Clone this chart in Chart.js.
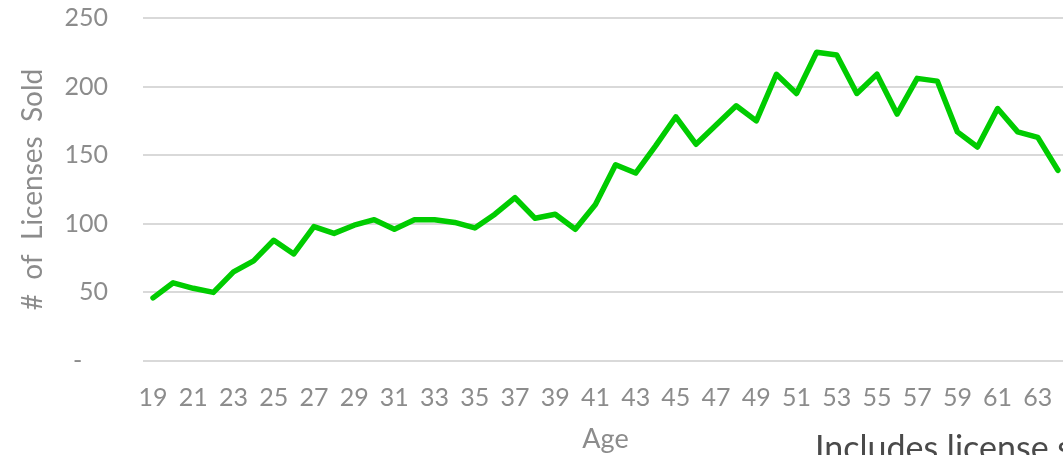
<!DOCTYPE html>
<html>
<head>
<meta charset="utf-8">
<script src="https://cdn.jsdelivr.net/npm/chart.js@4"></script>
<style>
  html, body { margin: 0; padding: 0; background: #fff; overflow: hidden; }
  #wrap { position: relative; width: 1080px; height: 455px; }
  #note { position: absolute; left: 815px; top: 426px; font-family: Lato, sans-serif; font-size: 34px; color: #4a4a4a; white-space: nowrap; }
</style>
</head>
<body>
<div id="wrap">
  <canvas id="ages" width="1080" height="455"></canvas>
  <div id="note">Includes license sales</div>
</div>
<script>
var ages = [19,20,21,22,23,24,25,26,27,28,29,30,31,32,33,34,35,36,37,38,39,40,41,42,43,44,45,46,47,48,49,50,51,52,53,54,55,56,57,58,59,60,61,62,63,64];
var licensesSold = [46,57,53,50,65,73,88,78,98,93,99,103,96,103,103,101,97,107,119,104,107,96,114,143,137,157,178,158,172,186,175,209,195,225,223,195,209,180,206,204,167,156,184,167,163,139];
var yTicks = [0,50,100,150,200,250];

var grey = "#8c8c8c";
var ctx = document.getElementById("ages").getContext("2d");

var ChartAges = new Chart(ctx, {
  type: "line",
  data: {
    labels: ages,
    datasets: [{
      label: "# of Licenses Sold",
      data: licensesSold,
      borderColor: "#00cc00",
      backgroundColor: "#00cc00",
      borderWidth: 5.5,
      borderJoinStyle: "round",
      borderCapStyle: "round",
      pointRadius: 0,
      tension: 0,
      fill: false
    }]
  },
  options: {
    responsive: false,
    animation: false,
    layout: { padding: { left: 0, right: 7, top: 18, bottom: 0 } },
    plugins: { legend: { display: false }, tooltip: { enabled: false } },
    scales: {
      x: {
        offset: true,
        afterFit: function(scale) { scale.height = 94; },
        grid: { display: false, drawTicks: false },
        border: { display: false },
        ticks: {
          autoSkip: false,
          maxRotation: 0,
          padding: 22,
          color: grey,
          font: { family: "Lato", size: 25 },
          callback: function(v, i) { return i % 2 === 0 ? ages[i] : ""; }
        },
        title: {
          display: true,
          text: "Age",
          color: grey,
          font: { family: "Lato", size: 27 },
          padding: { top: 0, bottom: 0 }
        }
      },
      y: {
        min: 0,
        max: 250,
        afterBuildTicks: function(scale) {
          scale.ticks = yTicks.map(function(v) { return { value: v }; });
        },
        afterFit: function(scale) {
          scale.width = 143;
          scale.paddingTop = 0;
          scale.paddingBottom = 0;
        },
        grid: { color: "#d9d9d9", lineWidth: 2, drawTicks: false },
        border: { display: false },
        ticks: {
          padding: 35,
          color: grey,
          font: { family: "Lato", size: 25 },
          callback: function(v) { return v === 0 ? "-    " : v; }
        },
        title: {
          display: true,
          text: "#  of  Licenses  Sold",
          color: grey,
          font: { family: "Lato", size: 28 },
          padding: { top: 16, bottom: 16 }
        }
      }
    }
  }
});
</script>
</body>
</html>
